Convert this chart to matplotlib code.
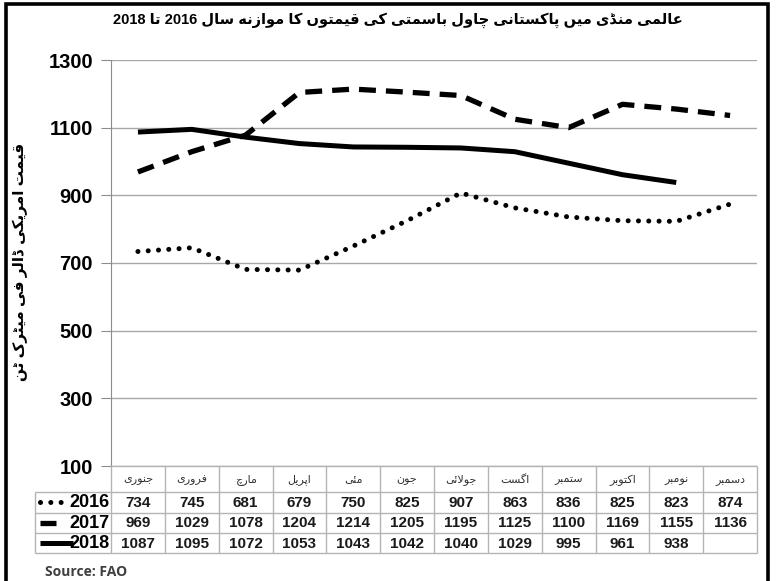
import re
import matplotlib
matplotlib.use("Agg")
import matplotlib.pyplot as plt
from matplotlib.patches import Rectangle

# data
months = ["جنوری", "فروری", "مارچ", "اپریل", "مئی", "جون",
          "جولائی", "اگست", "ستمبر", "اکتوبر", "نومبر", "دسمبر"]
years = ["2016", "2017", "2018"]
price_2016 = [734, 745, 681, 679, 750, 825, 907, 863, 836, 825, 823, 874]
price_2017 = [969, 1029, 1078, 1204, 1214, 1205, 1195, 1125, 1100, 1169, 1155, 1136]
price_2018 = [1087, 1095, 1072, 1053, 1043, 1042, 1040, 1029, 995, 961, 938]
yticks = [100, 300, 500, 700, 900, 1100, 1300]
title = "عالمی منڈی میں پاکستانی چاول باسمتی کی قیمتوں کا موازنہ سال 2016 تا 2018"
ylabel = "قیمت امریکی ڈالر فی میٹرک ٹن"
source = "Source: FAO"

# matplotlib does no arabic shaping: pick presentation forms by hand
# (no installed font has heh goal, so it is drawn with the heh forms)
FORMS = {
    "ا": (0xFE8D, 0xFE8E), "آ": (0xFE81, 0xFE82), "د": (0xFEA9, 0xFEAA),
    "ذ": (0xFEAB, 0xFEAC), "ر": (0xFEAD, 0xFEAE), "ز": (0xFEAF, 0xFEB0),
    "و": (0xFEED, 0xFEEE), "ڈ": (0xFB88, 0xFB89), "ڑ": (0xFB8C, 0xFB8D),
    "ے": (0xFBAE, 0xFBAF), "ں": (0xFB9E, 0xFB9F),
    "ب": (0xFE8F, 0xFE90, 0xFE91, 0xFE92), "پ": (0xFB56, 0xFB57, 0xFB58, 0xFB59),
    "ت": (0xFE95, 0xFE96, 0xFE97, 0xFE98), "ٹ": (0xFB66, 0xFB67, 0xFB68, 0xFB69),
    "ج": (0xFE9D, 0xFE9E, 0xFE9F, 0xFEA0), "چ": (0xFB7A, 0xFB7B, 0xFB7C, 0xFB7D),
    "س": (0xFEB1, 0xFEB2, 0xFEB3, 0xFEB4), "ع": (0xFEC9, 0xFECA, 0xFECB, 0xFECC),
    "ف": (0xFED1, 0xFED2, 0xFED3, 0xFED4), "ق": (0xFED5, 0xFED6, 0xFED7, 0xFED8),
    "ک": (0xFB8E, 0xFB8F, 0xFB90, 0xFB91), "گ": (0xFB92, 0xFB93, 0xFB94, 0xFB95),
    "ل": (0xFEDD, 0xFEDE, 0xFEDF, 0xFEE0), "م": (0xFEE1, 0xFEE2, 0xFEE3, 0xFEE4),
    "ن": (0xFEE5, 0xFEE6, 0xFEE7, 0xFEE8), "ہ": (0xFEE9, 0xFEEA, 0xFEEB, 0xFEEC),
    "ی": (0xFBFC, 0xFBFD, 0xFBFE, 0xFBFF), "ئ": (0xFE89, 0xFE8A, 0xFE8B, 0xFE8C),
}


def urdu(text):
    out = []
    i = 0
    while i < len(text):
        c = text[i]
        if c not in FORMS:
            out.append(c)
            i += 1
            continue
        prev = text[i - 1] if i > 0 else ""
        join_prev = prev in FORMS and len(FORMS[prev]) == 4
        if c == "ل" and text[i + 1:i + 2] == "ا":
            out.append(chr(0xFEFC if join_prev else 0xFEFB))
            i += 2
            continue
        nxt = text[i + 1] if i + 1 < len(text) else ""
        f = FORMS[c]
        join_next = len(f) == 4 and nxt in FORMS
        if join_prev and join_next:
            g = f[3]
        elif join_prev:
            g = f[1]
        elif join_next:
            g = f[2]
        else:
            g = f[0]
        out.append(chr(g))
        i += 1
    s = "".join(out)[::-1]
    return re.sub(r"[0-9]+", lambda m: m.group()[::-1], s)


plt.rcParams["font.family"] = ["Liberation Sans", "DejaVu Sans"]

W, H = 778, 581
fig = plt.figure(figsize=(W / 100, H / 100), dpi=100)

# plot area
ax = fig.add_axes([111 / W, 1 - 466 / H, 646 / W, 406 / H])
ax.set_xlim(-0.5, 11.5)
ax.set_ylim(100, 1300)
ax.set_yticks(yticks)
ax.set_xticks([])
for side in ["top", "right", "bottom"]:
    ax.spines[side].set_visible(False)
ax.spines["left"].set_color("#8c8c8c")
ax.yaxis.grid(True, color="#a8a8a8", lw=1)
ax.set_axisbelow(True)
ax.tick_params(axis="y", length=7, color="#8c8c8c", pad=6, labelsize=14.5)
for t in ax.get_yticklabels():
    t.set_fontweight("bold")

styles = [
    dict(color="black", lw=3.6, linestyle=(0, (0.01, 2.05)), dash_capstyle="round"),
    dict(color="black", lw=3.8, linestyle=(0, (3.2, 1.9)), dash_capstyle="butt"),
    dict(color="black", lw=3.6, linestyle="-", solid_capstyle="butt"),
]
series = [price_2016, price_2017, price_2018]
for vals, st in zip(series, styles):
    ax.plot(range(len(vals)), vals, **st)

# data table under the plot
tab = fig.add_axes([111 / W, 1 - 553 / H, 646 / W, 87 / H])
tab.set_xlim(-0.5, 11.5)
tab.set_ylim(87, 0)
tab.axis("off")
col_w = 646 / 12


def lx(px):
    return -0.5 + (px - 111) / col_w


rows = [0, 26, 46.5, 67, 87]
grid_c = "#b4b4b4"
tab.hlines(rows[0], -0.5, 11.5, color=grid_c, lw=1, clip_on=False)
tab.hlines(rows[1:], lx(35), 11.5, color=grid_c, lw=1, clip_on=False)
tab.vlines([i - 0.5 for i in range(13)], 0, 87, color=grid_c, lw=1, clip_on=False)
tab.vlines(lx(35), rows[1], rows[-1], color=grid_c, lw=1, clip_on=False)

for i, m in enumerate(months):
    tab.text(i, 14, urdu(m), ha="center", va="center", fontsize=8, color="#333333")

for r, (yr, vals, st) in enumerate(zip(years, series, styles)):
    yc = (rows[r + 1] + rows[r + 2]) / 2
    for i, v in enumerate(vals):
        tab.text(i, yc + 0.5, str(v), ha="center", va="center", fontsize=11,
                 fontweight="bold", color="#1a1a1a")
    key_end = [61, 56, 73][r]
    tab.plot([lx(40), lx(key_end)], [yc, yc], clip_on=False, **st)
    tab.text(lx(109), yc + 0.5, yr, ha="right", va="center", fontsize=13,
             fontweight="bold", color="black")

# titles and source
fig.text(398 / W, 1 - 20 / H, urdu(title), ha="center", va="center",
         fontsize=10.5, fontweight="bold")
fig.text(20 / W, 1 - 262 / H, urdu(ylabel), ha="center", va="center",
         rotation=90, fontsize=11, fontweight="bold")
fig.text(45 / W, 1 - 572 / H, source, ha="left", va="center", fontsize=10,
         fontweight="bold", color="#404040", family="Open Sans")

# outer black frame
fig.add_artist(Rectangle((6.5 / W, -0.1), (768 - 6.5) / W, 1.1 - 4.5 / H,
                         transform=fig.transFigure, fill=False,
                         edgecolor="black", lw=2.6))

fig.savefig("out.png", dpi=100)
